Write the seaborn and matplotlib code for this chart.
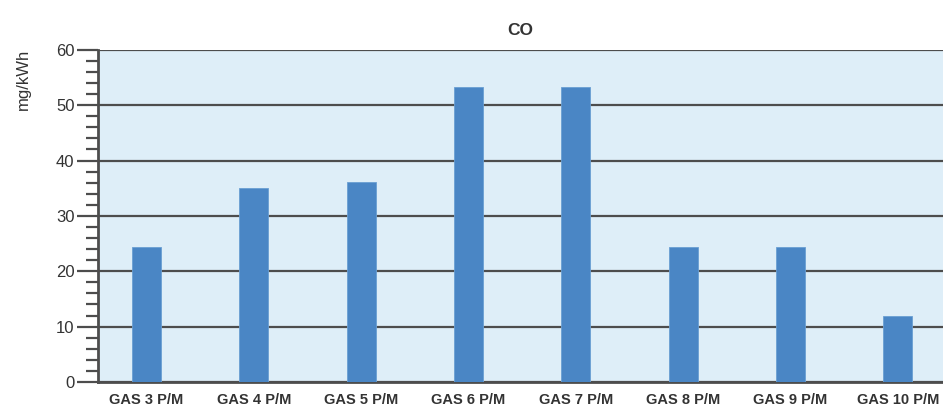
import numpy as np
import pandas as pd
import matplotlib.pyplot as plt
import seaborn as sns
from matplotlib.ticker import MultipleLocator

# dati
categorie = ["GAS 3 P/M", "GAS 4 P/M", "GAS 5 P/M", "GAS 6 P/M",
             "GAS 7 P/M", "GAS 8 P/M", "GAS 9 P/M", "GAS 10 P/M"]
valori_co = [24.3, 35, 36.2, 53.2, 53.2, 24.3, 24.3, 12]

df = pd.DataFrame({"Categoria": categorie, "CO": valori_co})

sns.set_style("white")
plt.rcParams['font.family'] = ['Liberation Sans', 'DejaVu Sans']

fig = plt.figure(figsize=(9.43, 4.12), dpi=100)
ax = fig.add_axes([0.104, 0.073, 0.896, 0.806])
ax.set_facecolor("#deeef8")

sns.barplot(data=df, x="Categoria", y="CO", color="#4a86c5",
            saturation=1, width=0.27, ax=ax, zorder=3,
            edgecolor="#6a9fd3", linewidth=0.6)

ax.set_ylim(0, 60)
ax.set_xlim(-0.45, 7.42)
ax.yaxis.set_major_locator(MultipleLocator(10))
ax.yaxis.set_minor_locator(MultipleLocator(2))
ax.grid(axis='y', which='major', color="#4d4d4d", linewidth=1.6, zorder=1)
ax.set_axisbelow(True)

ax.tick_params(axis='y', which='both', left=True)
ax.tick_params(axis='y', which='major', length=15, width=1.6,
               color="#4d4d4d", labelsize=12, labelcolor="#333333", pad=2)
ax.tick_params(axis='y', which='minor', length=9, width=1.6, color="#4d4d4d")
ax.tick_params(axis='x', length=0, labelsize=10.5, labelcolor="#333333", pad=8)
for lab in ax.get_xticklabels():
    lab.set_fontweight("bold")

for s in ["top", "right"]:
    ax.spines[s].set_visible(False)
for s in ["left", "bottom"]:
    ax.spines[s].set_color("#4d4d4d")
    ax.spines[s].set_linewidth(2)

ax.set_xlabel("")
ax.set_ylabel("mg/kWh", fontsize=12, color="#333333")
ax.yaxis.set_label_coords(-0.08, 0.91)
ax.set_title("CO", fontsize=12.5, fontweight="bold", color="#333333", pad=11)

plt.savefig("out.png", dpi=100)
